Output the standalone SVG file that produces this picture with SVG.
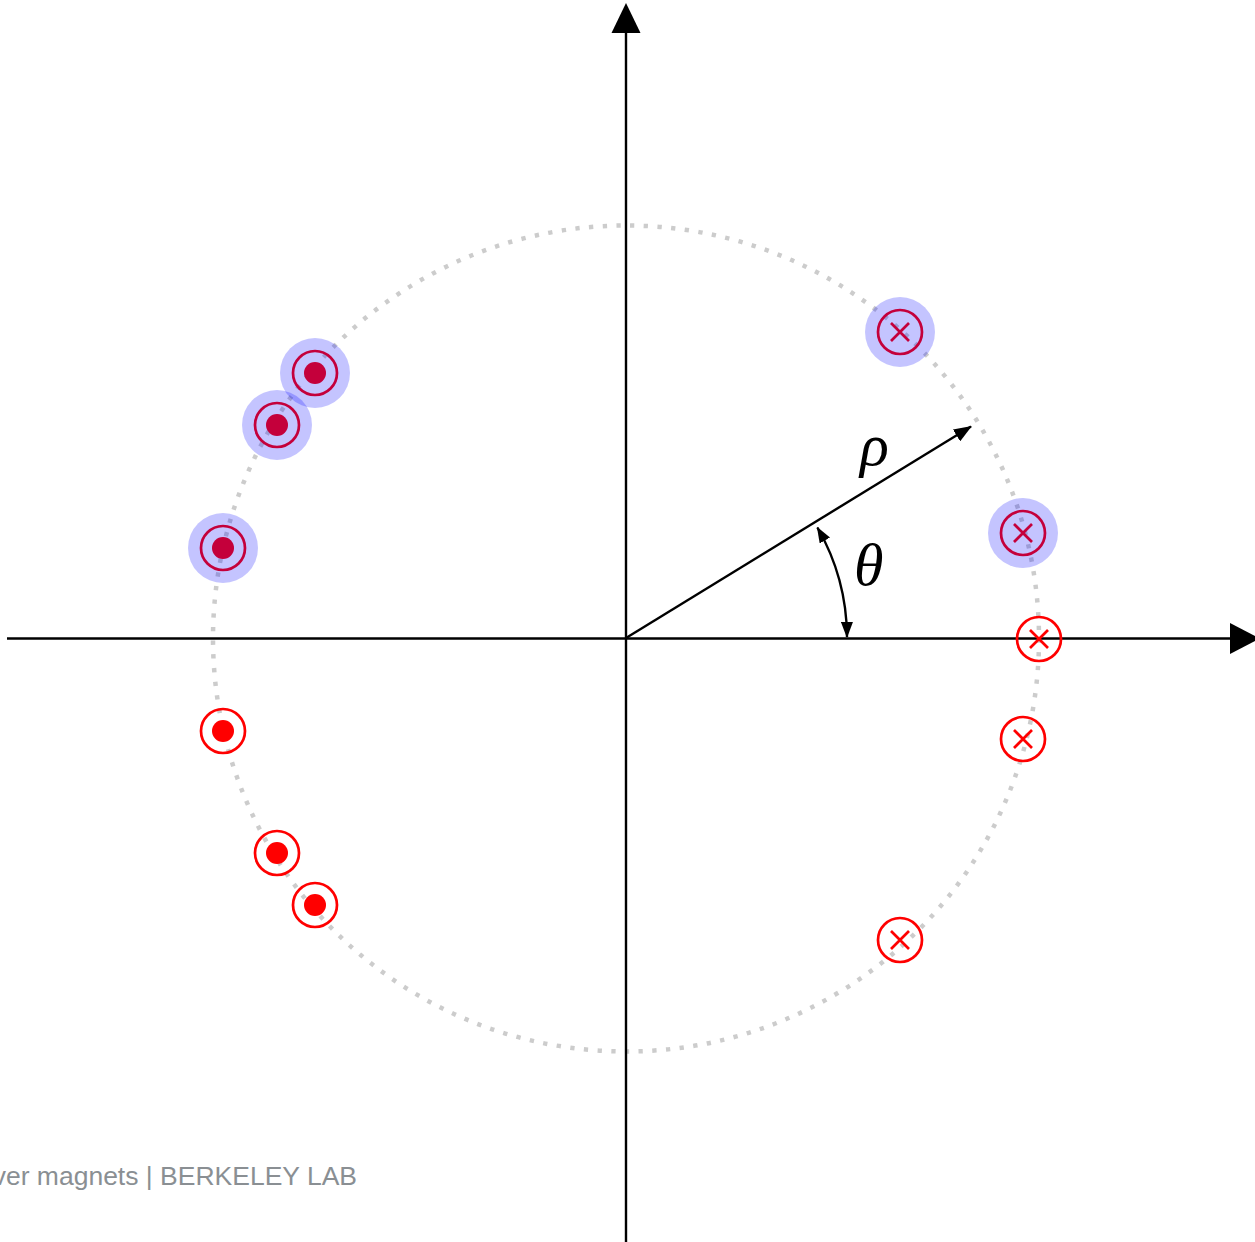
<svg xmlns="http://www.w3.org/2000/svg" width="1255" height="1242" viewBox="0 0 1255 1242">
<style>
.ring{fill:none;stroke:#ff0000;stroke-width:2.7}
.dot{fill:#ff0000}
.cross{stroke:#ff0000;stroke-width:2.7;fill:none}
.halo{fill:#0000ff;fill-opacity:0.23}
.axis{stroke:#000;stroke-width:2.4;fill:none}
.conn{stroke:#000;stroke-width:2.4;fill:none}
.lbl{font-family:"Liberation Serif","DejaVu Serif",serif;font-style:italic;font-size:60px;fill:#000}
.credit{font-family:"Liberation Sans",Arial,sans-serif;font-size:26.5px;fill:#8a8f93}
</style>
<defs>
<marker id="ah" markerUnits="userSpaceOnUse" markerWidth="18" markerHeight="14" refX="17" refY="7" orient="auto-start-reverse" viewBox="0 0 18 14">
<path d="M0,0 L18,7 L0,14 z" fill="#000"/>
</marker>
<marker id="ah2" markerUnits="userSpaceOnUse" markerWidth="16" markerHeight="12" refX="15" refY="6" orient="auto-start-reverse" viewBox="0 0 16 12">
<path d="M0,0 L16,6 L0,12 z" fill="#000"/>
</marker>
<g id="dotsym">
<circle class="ring" cx="0" cy="0" r="22"/>
<circle class="dot" cx="0" cy="0" r="11"/>
</g>
<g id="xsym">
<circle class="ring" cx="0" cy="0" r="22"/>
<path class="cross" d="M-9,-9 L9,9 M-9,9 L9,-9"/>
</g>
</defs>
<rect width="1255" height="1242" fill="#fff"/>
<circle id="orbit" cx="626" cy="638.5" r="413" fill="none" stroke="#cccccc" stroke-width="4.5" stroke-dasharray="4.3 9.43"/>
<g id="connectors">
<line class="axis" x1="7" y1="638.5" x2="1232" y2="638.5"/>
<polygon points="1230,623 1260,638.5 1230,654" fill="#000"/>
<line class="axis" x1="626" y1="1242" x2="626" y2="30"/>
<polygon points="611.5,33 626,3 640.5,33" fill="#000"/>
<line class="conn" x1="626" y1="638" x2="971" y2="426.5" marker-end="url(#ah)"/>
<path class="conn" d="M817.4,527.5 A221,221 0 0 1 847,637" marker-start="url(#ah2)" marker-end="url(#ah2)"/>
</g>
<g id="m1"><use href="#dotsym" x="315" y="373"/></g>
<g id="m2"><use href="#dotsym" x="277" y="425"/></g>
<g id="m3"><use href="#dotsym" x="223" y="548"/></g>
<g id="m4"><use href="#dotsym" x="223" y="731"/></g>
<g id="m5"><use href="#dotsym" x="277" y="853"/></g>
<g id="m6"><use href="#dotsym" x="315" y="905"/></g>
<g id="m7"><use href="#xsym" x="900" y="332"/></g>
<g id="m8"><use href="#xsym" x="1023" y="533"/></g>
<g id="m9"><use href="#xsym" x="1039" y="639"/></g>
<g id="m10"><use href="#xsym" x="1023" y="739"/></g>
<g id="m11"><use href="#xsym" x="900" y="940"/></g>
<g id="halos">
<circle class="halo" cx="315" cy="373" r="35"/>
<circle class="halo" cx="277" cy="425" r="35"/>
<circle class="halo" cx="223" cy="548" r="35"/>
<circle class="halo" cx="900" cy="332" r="35"/>
<circle class="halo" cx="1023" cy="533" r="35"/>
</g>
<g id="label-rho"><text class="lbl" x="860" y="465">ρ</text></g>
<g id="label-theta"><text class="lbl" x="854" y="585">θ</text></g>
<g id="credit"><text class="credit" x="357" y="1185" text-anchor="end">ver magnets | BERKELEY LAB</text></g>
</svg>
